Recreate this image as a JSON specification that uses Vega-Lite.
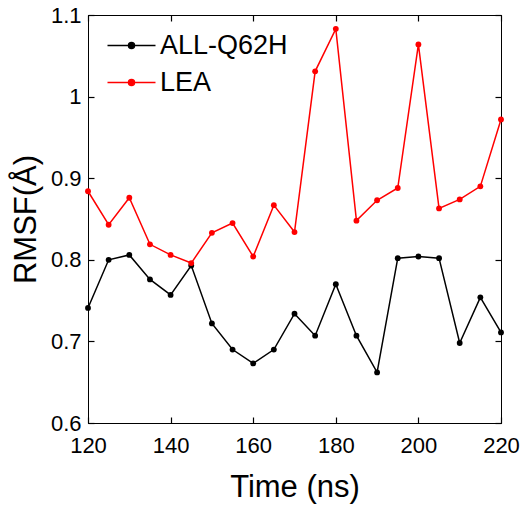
{
  "$schema": "https://vega.github.io/schema/vega-lite/v6.json",
  "width": 413,
  "height": 408,
  "autosize": {"type": "none"},
  "padding": {"left": 88, "top": 15, "right": 24, "bottom": 83},
  "background": "white",
  "config": {
    "font": "Liberation Sans",
    "view": {"stroke": "#000", "strokeWidth": 1},
    "axis": {
      "grid": false,
      "domainColor": "#000",
      "tickColor": "#000",
      "labelColor": "#000",
      "titleColor": "#000",
      "labelFontSize": 22,
      "titleFontSize": 31,
      "titleFontWeight": "normal",
      "tickSize": -6,
      "tickWidth": 1.2,
      "labelFlush": false,
      "labelOverlap": false,
      "labelFont": "Liberation Sans",
      "titleFont": "Liberation Sans"
    }
  },
  "data": {
    "values": [
      {"time": 120, "series": "ALL-Q62H", "rmsf": 0.741},
      {"time": 125, "series": "ALL-Q62H", "rmsf": 0.800},
      {"time": 130, "series": "ALL-Q62H", "rmsf": 0.806},
      {"time": 135, "series": "ALL-Q62H", "rmsf": 0.776},
      {"time": 140, "series": "ALL-Q62H", "rmsf": 0.757},
      {"time": 145, "series": "ALL-Q62H", "rmsf": 0.793},
      {"time": 150, "series": "ALL-Q62H", "rmsf": 0.722},
      {"time": 155, "series": "ALL-Q62H", "rmsf": 0.690},
      {"time": 160, "series": "ALL-Q62H", "rmsf": 0.673},
      {"time": 165, "series": "ALL-Q62H", "rmsf": 0.690},
      {"time": 170, "series": "ALL-Q62H", "rmsf": 0.734},
      {"time": 175, "series": "ALL-Q62H", "rmsf": 0.707},
      {"time": 180, "series": "ALL-Q62H", "rmsf": 0.770},
      {"time": 185, "series": "ALL-Q62H", "rmsf": 0.707},
      {"time": 190, "series": "ALL-Q62H", "rmsf": 0.662},
      {"time": 195, "series": "ALL-Q62H", "rmsf": 0.802},
      {"time": 200, "series": "ALL-Q62H", "rmsf": 0.804},
      {"time": 205, "series": "ALL-Q62H", "rmsf": 0.802},
      {"time": 210, "series": "ALL-Q62H", "rmsf": 0.698},
      {"time": 215, "series": "ALL-Q62H", "rmsf": 0.754},
      {"time": 220, "series": "ALL-Q62H", "rmsf": 0.711},
      {"time": 120, "series": "LEA", "rmsf": 0.884},
      {"time": 125, "series": "LEA", "rmsf": 0.843},
      {"time": 130, "series": "LEA", "rmsf": 0.876},
      {"time": 135, "series": "LEA", "rmsf": 0.819},
      {"time": 140, "series": "LEA", "rmsf": 0.806},
      {"time": 145, "series": "LEA", "rmsf": 0.796},
      {"time": 150, "series": "LEA", "rmsf": 0.833},
      {"time": 155, "series": "LEA", "rmsf": 0.845},
      {"time": 160, "series": "LEA", "rmsf": 0.804},
      {"time": 165, "series": "LEA", "rmsf": 0.867},
      {"time": 170, "series": "LEA", "rmsf": 0.834},
      {"time": 175, "series": "LEA", "rmsf": 1.031},
      {"time": 180, "series": "LEA", "rmsf": 1.083},
      {"time": 185, "series": "LEA", "rmsf": 0.848},
      {"time": 190, "series": "LEA", "rmsf": 0.873},
      {"time": 195, "series": "LEA", "rmsf": 0.888},
      {"time": 200, "series": "LEA", "rmsf": 1.064},
      {"time": 205, "series": "LEA", "rmsf": 0.863},
      {"time": 210, "series": "LEA", "rmsf": 0.874},
      {"time": 215, "series": "LEA", "rmsf": 0.890},
      {"time": 220, "series": "LEA", "rmsf": 0.972}
    ]
  },
  "layer": [
    {
      "mark": {"type": "line", "strokeWidth": 1.5, "point": {"filled": true, "size": 34}},
      "encoding": {
        "x": {
          "field": "time", "type": "quantitative",
          "scale": {"domain": [120, 220], "nice": false, "zero": false},
          "axis": {"values": [120, 140, 160, 180, 200, 220], "title": "Time (ns)", "labelPadding": 18, "titlePadding": 16, "orient": "bottom"}
        },
        "y": {
          "field": "rmsf", "type": "quantitative",
          "scale": {"domain": [0.6, 1.1], "nice": false, "zero": false},
          "axis": {"values": [0.6, 0.7, 0.8, 0.9, 1.0, 1.1], "format": "~g", "title": "RMSF(Å)", "labelPadding": 13, "titlePadding": 8, "orient": "left"}
        },
        "color": {
          "field": "series", "type": "nominal",
          "scale": {"domain": ["ALL-Q62H", "LEA"], "range": ["#000000", "#ff0000"]},
          "legend": {
            "title": null,
            "orient": "none",
            "legendX": 30,
            "legendY": 17,
            "labelFontSize": 27,
            "labelColor": "#000",
            "labelFont": "Liberation Sans",
            "symbolType": "M-2,0H2M-0.25,0A0.25,0.25,0,1,1,0.25,0A0.25,0.25,0,1,1,-0.25,0Z",
            "symbolSize": 576,
            "symbolStrokeWidth": 1.5,
            "labelOffset": 15,
            "rowPadding": 9,
            "encode": {"symbols": {"update": {"fill": {"scale": "color", "field": "value"}, "opacity": {"value": 1}}}}
          }
        }
      }
    },
    {
      "mark": {"type": "point", "opacity": 0},
      "encoding": {
        "x": {
          "field": "time", "type": "quantitative",
          "scale": {"domain": [120, 220], "nice": false, "zero": false},
          "axis": {"values": [120, 140, 160, 180, 200, 220], "labels": false, "title": null, "orient": "top", "domain": true}
        },
        "y": {
          "field": "rmsf", "type": "quantitative",
          "scale": {"domain": [0.6, 1.1], "nice": false, "zero": false},
          "axis": {"values": [0.6, 0.7, 0.8, 0.9, 1.0, 1.1], "labels": false, "title": null, "orient": "right", "domain": true}
        }
      }
    }
  ],
  "resolve": {"axis": {"x": "independent", "y": "independent"}}
}
